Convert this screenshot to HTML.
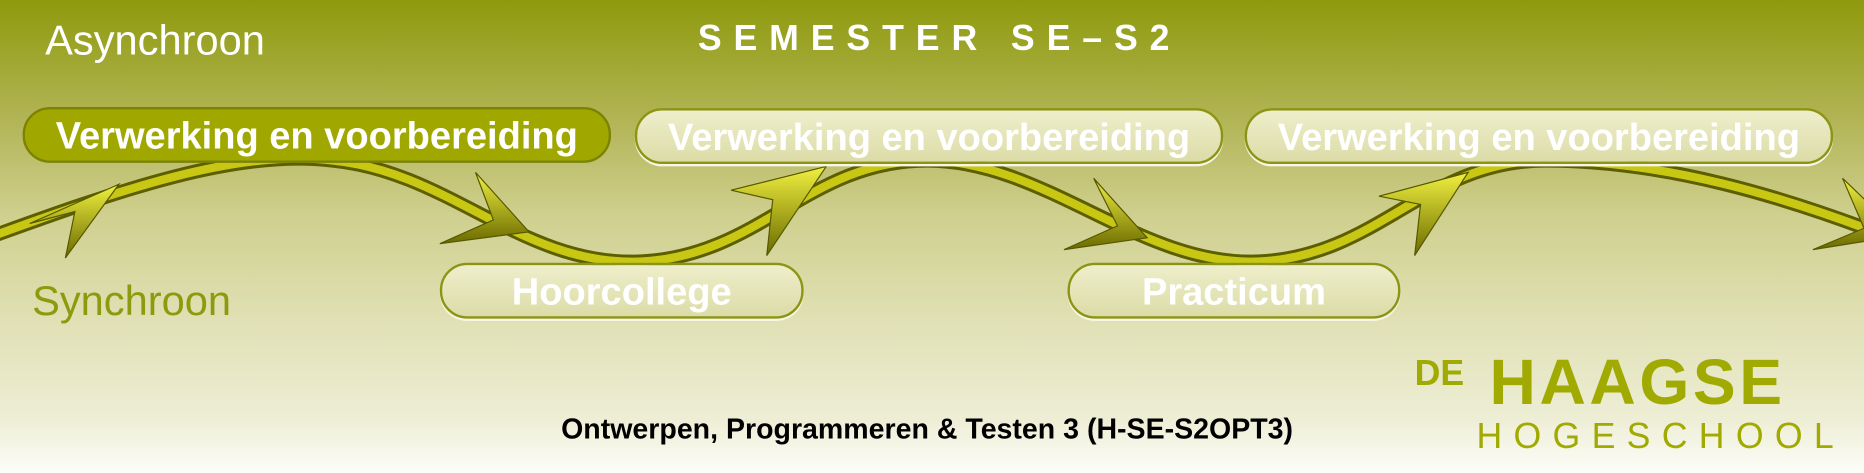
<!DOCTYPE html>
<html><head><style>
body{margin:0;width:1864px;height:473px;overflow:hidden;font-family:"Liberation Sans",sans-serif;background:linear-gradient(#8e9a0c 0px,#b2b455 119px,#cfcf8e 214px,#dedfb0 309px,#eeeed6 420px,#fdfdf9 473px);}
#w{position:absolute;left:0;top:0;width:1568px;height:398px;transform:scale(1.18878);transform-origin:0 0;}
.t{position:absolute;white-space:nowrap;}
.box{position:absolute;height:47px;border-radius:23px;box-sizing:border-box;color:#fff;font-weight:bold;font-size:32px;text-align:center;line-height:45px;}
.dark{background:#a0a800;border:2px solid #7c8204;}
.lite{background:linear-gradient(#eeeecb,#dcdca8);border:2px solid #8d9414;box-shadow:0 2px 0 #f6f6e6;}
</style></head><body>
<div id="w">
<svg width="1568" height="398" style="position:absolute;left:0;top:0">
<defs><linearGradient id="g" x1="0" y1="0" x2="0" y2="1"><stop offset="0" stop-color="#f0f040"/><stop offset="1" stop-color="#6a6a00"/></linearGradient></defs>
<path d="M-10,200 C100,160 200,125 280,135 C380,145 440,225 540,220 C640,215 680,135 780,135 C880,135 960,225 1060,220 C1160,215 1200,135 1300,135 C1400,135 1500,165 1590,200" fill="none" stroke="#5c5e00" stroke-width="12"/>
<path d="M-10,200 C100,160 200,125 280,135 C380,145 440,225 540,220 C640,215 680,135 780,135 C880,135 960,225 1060,220 C1160,215 1200,135 1300,135 C1400,135 1500,165 1590,200" fill="none" stroke="#c8c814" stroke-width="7"/>
<g fill="url(#g)" stroke="#555800" stroke-width="1">
<polygon points="25,188 100,155 55,217 63,178"/>
<polygon points="400,145 445,195 370,205 415,185"/>
<polygon points="615,160 695,140 645,215 650,168"/>
<polygon points="920,150 965,200 895,210 940,190"/>
<polygon points="1160,165 1235,145 1190,215 1195,172"/>
<polygon points="1550,150 1600,198 1525,210 1568,192"/>
</g>
</svg>
<div class="t" style="left:38px;top:15px;font-size:35px;color:#fff">Asynchroon</div>
<div class="t" style="left:587px;top:16px;font-size:30px;color:#fff;font-weight:bold;letter-spacing:10px">SEMESTER SE–S2</div>
<div class="t" style="left:27px;top:234px;font-size:35px;color:#8e9a0e">Synchroon</div>
<div class="box dark" style="left:19px;top:90px;width:495px">Verwerking en voorbereiding</div>
<div class="box lite" style="left:534px;top:91px;width:495px">Verwerking en voorbereiding</div>
<div class="box lite" style="left:1047px;top:91px;width:495px">Verwerking en voorbereiding</div>
<div class="box lite" style="left:370px;top:221px;width:306px">Hoorcollege</div>
<div class="box lite" style="left:898px;top:221px;width:280px">Practicum</div>
<div class="t" style="left:472px;top:348px;font-size:24px;font-weight:bold;color:#000">Ontwerpen, Programmeren &amp; Testen 3 (H-SE-S2OPT3)</div>
<div class="t" style="left:1190px;top:298px;font-size:30px;font-weight:bold;color:#a0aa00">DE</div>
<div class="t" style="left:1253px;top:291px;font-size:54px;font-weight:bold;color:#a0aa00;letter-spacing:3px">HAAGSE</div>
<div class="t" style="left:1242px;top:351px;font-size:30px;color:#a0aa00;letter-spacing:9.5px">HOGESCHOOL</div>
</div>
</body></html>
